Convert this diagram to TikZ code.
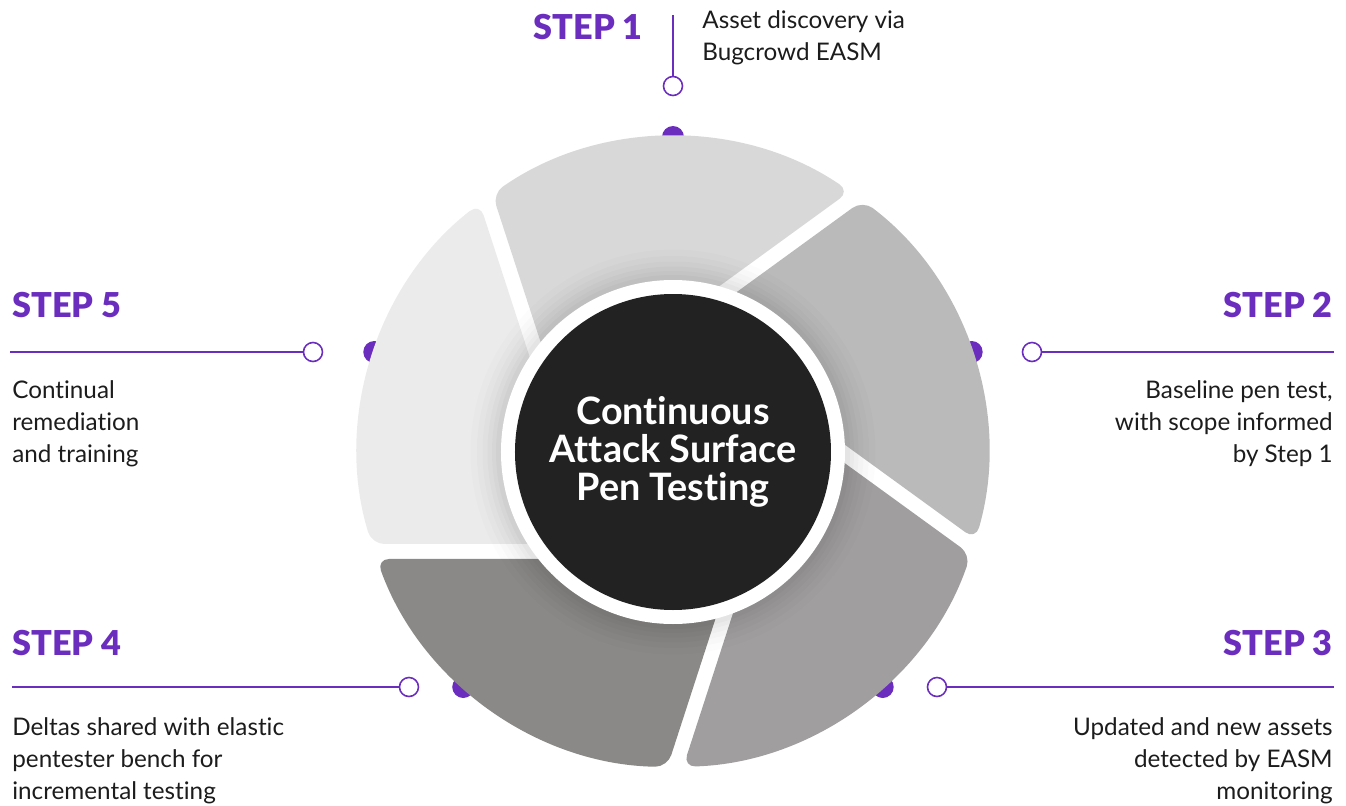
\documentclass[tikz,border=0pt]{standalone}
\usepackage{fontspec}
\setmainfont[Ligatures=NoCommon]{Lato}
\newfontfamily\heavyfont[Ligatures=NoCommon]{Lato Black}

\definecolor{stepviolet}{RGB}{107,45,190}
\definecolor{notegray}{RGB}{28,28,28}
\definecolor{hubgray}{HTML}{222222}
\definecolor{bladeA}{HTML}{D8D8D8}
\definecolor{bladeB}{HTML}{BABABA}
\definecolor{bladeC}{HTML}{A09E9E}
\definecolor{bladeD}{HTML}{8A8987}
\definecolor{bladeE}{HTML}{EBEBEB}

\tikzset{
  stepname/.style={text=stepviolet, font=\heavyfont\fontsize{19.5}{22}\selectfont, inner sep=0pt},
  stepnote/.style={text=notegray, font=\fontsize{13.8}{18.1}\selectfont, inner sep=0pt},
  lead/.style={draw=stepviolet, line width=0.9pt},
  ring/.style={circle, draw=stepviolet, fill=white, line width=0.9pt, minimum size=0.38cm, inner sep=0pt},
  knob/.style={circle, fill=stepviolet, minimum size=0.44cm, inner sep=0pt},
  blade/.style={rounded corners=0.25cm},
  hub/.style={circle, fill=hubgray, minimum size=6.32cm, inner sep=0pt, align=center,
    text=white, font=\fontsize{21.5}{21.5}\selectfont\bfseries},
}

\begin{document}
\begin{tikzpicture}
\useasboundingbox (-13.46,-7.06) rectangle (13.46,9.04);

% dots under the blades
\node[knob] (k1) at (90:6.3) {};
\node[knob] (k2) at (5.974,2) {};
\node[knob] (k3) at (4.195,-4.7) {};
\node[knob] (k4) at (-4.195,-4.7) {};
\node[knob] (k5) at (-5.974,2) {};

% blades
\fill[bladeE, blade] (-131.9:2.47) -- (127.85:6.3) arc[start angle=127.85, end angle=196.98, radius=6.3] -- cycle;
\fill[bladeA, blade] (156.1:2.47) -- (55.85:6.3) arc[start angle=55.85, end angle=124.98, radius=6.3] -- cycle;
\fill[bladeB, blade] (84.1:2.47) -- (-16.15:6.3) arc[start angle=-16.15, end angle=52.98, radius=6.3] -- cycle;
\fill[bladeC, blade] (12.1:2.47) -- (-88.15:6.3) arc[start angle=-88.15, end angle=-19.02, radius=6.3] -- cycle;
\fill[bladeD, blade] (-59.9:2.47) -- (-160.15:6.3) arc[start angle=-160.15, end angle=-91.02, radius=6.3] -- cycle;

% soft shadow round the hub
\fill[black, opacity=0.012] (0,0) circle (4.05);
\fill[black, opacity=0.014] (0,0) circle (3.92);
\fill[black, opacity=0.016] (0,0) circle (3.81);
\fill[black, opacity=0.018] (0,0) circle (3.71);
\fill[black, opacity=0.02] (0,0) circle (3.62);
\fill[black, opacity=0.022] (0,0) circle (3.54);
\fill[white] (0,0) circle (3.44);
\node[hub] (hub) at (0,0) {Continuous\\Attack Surface\\Pen Testing};

% step 1
\node[ring] (o1) at (0,7.32) {};
\coordinate (e1) at (0,8.74);
\draw[lead] (e1) -- (o1);
\node[stepname, anchor=base east] (s1) at (-0.6,8.26) {STEP 1};
\node[stepnote, anchor=north west, align=left] (t1) at (0.58,8.83) {Asset discovery via\\Bugcrowd EASM};

% step 2
\node[ring] (o2) at (7.18,2) {};
\coordinate (e2) at (13.22,2);
\draw[lead] (o2) -- (e2);
\node[stepname, anchor=base east] (s2) at (13.2,2.7) {STEP 2};
\node[stepnote, anchor=north east, align=right] (t2) at (13.2,1.43) {Baseline pen test,\\with scope informed\\by Step 1};

% step 3
\node[ring] (o3) at (5.28,-4.7) {};
\coordinate (e3) at (13.22,-4.7);
\draw[lead] (o3) -- (e3);
\node[stepname, anchor=base east] (s3) at (13.2,-4.06) {STEP 3};
\node[stepnote, anchor=north east, align=right] (t3) at (13.2,-5.31) {Updated and new assets\\detected by EASM\\monitoring};

% step 4
\node[ring] (o4) at (-5.28,-4.7) {};
\coordinate (e4) at (-13.22,-4.7);
\draw[lead] (e4) -- (o4);
\node[stepname, anchor=base west] (s4) at (-13.22,-4.06) {STEP 4};
\node[stepnote, anchor=north west, align=left] (t4) at (-13.22,-5.31) {Deltas shared with elastic\\pentester bench for\\incremental testing};

% step 5
\node[ring] (o5) at (-7.2,2) {};
\coordinate (e5) at (-13.26,2);
\draw[lead] (e5) -- (o5);
\node[stepname, anchor=base west] (s5) at (-13.22,2.7) {STEP 5};
\node[stepnote, anchor=north west, align=left] (t5) at (-13.22,1.43) {Continual\\remediation\\and training};
\end{tikzpicture}
\end{document}
